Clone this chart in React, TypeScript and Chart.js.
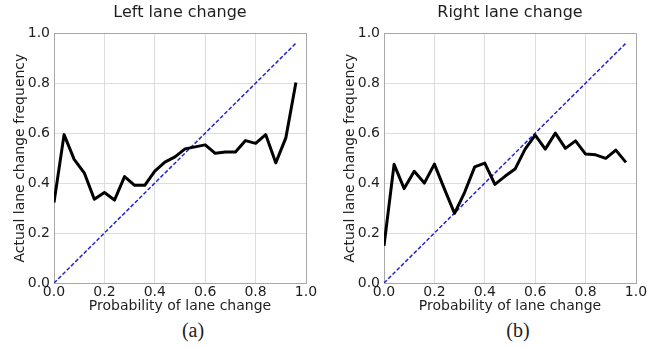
import { useEffect, useRef } from "react";
import { Chart, registerables } from "chart.js";

Chart.register(...registerables);

const probabilities = [
  0.0, 0.04, 0.08, 0.12, 0.16, 0.2, 0.24, 0.28, 0.32, 0.36, 0.4, 0.44, 0.48,
  0.52, 0.56, 0.6, 0.64, 0.68, 0.72, 0.76, 0.8, 0.84, 0.88, 0.92, 0.96,
];
const leftFrequency = [
  0.322, 0.594, 0.495, 0.441, 0.335, 0.362, 0.332, 0.426, 0.391, 0.391, 0.448,
  0.484, 0.505, 0.537, 0.545, 0.553, 0.519, 0.524, 0.524, 0.57, 0.559, 0.594,
  0.481, 0.581, 0.803,
];
const rightFrequency = [
  0.149, 0.475, 0.378, 0.447, 0.4, 0.476, 0.376, 0.279, 0.363, 0.465, 0.48,
  0.395, 0.427, 0.456, 0.536, 0.592, 0.536, 0.6, 0.539, 0.569, 0.516, 0.513,
  0.499, 0.532, 0.483,
];
const diagonalX = [0, 0.96];
const diagonalY = [0, 0.96];
const tickValues = [0, 0.2, 0.4, 0.6, 0.8, 1.0];
const tickLabels = ["0.0", "0.2", "0.4", "0.6", "0.8", "1.0"];

const FONT = "DejaVu Sans";
const TEXT = "#1e1e1e";

function CalibrationChart({ title, values }: { title: string; values: number[] }) {
  const ref = useRef<HTMLCanvasElement | null>(null);
  useEffect(() => {
    if (!ref.current) return;
    const gridColor = (ctx: any) =>
      ctx.tick && ctx.tick.value === 1 ? "#a8a8a8" : "#dddddd";
    const setTicks = (scale: any) => {
      scale.ticks = tickValues.map((v) => ({ value: v }));
    };
    const tickCb = (_v: any, i: number) => tickLabels[i];
    const chart = new Chart(ref.current, {
      type: "line",
      data: {
        datasets: [
          {
            data: probabilities.map((x, i) => ({ x, y: values[i] })),
            borderColor: "#000000",
            borderWidth: 3,
            pointRadius: 0,
            tension: 0,
            borderJoinStyle: "round",
            fill: false,
          },
          {
            data: diagonalX.map((x, i) => ({ x, y: diagonalY[i] })),
            borderColor: "rgb(35,35,210)",
            borderWidth: 1.5,
            borderDash: [4, 2],
            pointRadius: 0,
            fill: false,
          },
        ],
      },
      options: {
        animation: false,
        responsive: false,
        layout: { padding: { left: 0, right: 19, top: 0, bottom: 0 } },
        plugins: {
          legend: { display: false },
          tooltip: { enabled: false },
          title: {
            display: true,
            text: title,
            fullSize: false,
            color: TEXT,
            font: { family: FONT, size: 16, weight: "normal" },
            padding: { top: 3, bottom: 11 },
          },
        },
        scales: {
          x: {
            type: "linear",
            min: 0,
            max: 1,
            afterBuildTicks: setTicks,
            afterFit: (s: any) => {
              s.height = 35;
            },
            grid: { drawTicks: false, color: gridColor },
            border: { color: "#a8a8a8" },
            ticks: {
              padding: 1,
              color: TEXT,
              font: { family: FONT, size: 14 },
              callback: tickCb,
              maxRotation: 0,
            },
            title: {
              display: true,
              text: "Probability of lane change",
              color: TEXT,
              font: { family: FONT, size: 14 },
              padding: { top: 0, bottom: 3 },
            },
          },
          y: {
            type: "linear",
            min: 0,
            max: 1,
            afterBuildTicks: setTicks,
            afterFit: (s: any) => {
              s.width = 54;
            },
            grid: { drawTicks: false, color: gridColor },
            border: { color: "#a8a8a8" },
            ticks: {
              padding: 4,
              color: TEXT,
              font: { family: FONT, size: 14 },
              callback: tickCb,
            },
            title: {
              display: true,
              text: "Actual lane change frequency",
              color: TEXT,
              font: { family: FONT, size: 14 },
              padding: { top: 12, bottom: 0 },
            },
          },
        },
      },
    } as any);
    return () => chart.destroy();
  }, [title, values]);
  return <canvas ref={ref} width={325} height={318} style={{ width: 325, height: 318, display: "block" }} />;
}

export default function App() {
  const caption: React.CSSProperties = {
    position: "absolute",
    top: 318,
    fontFamily: "Liberation Serif",
    fontSize: 20,
    color: TEXT,
    width: 60,
    textAlign: "center",
    lineHeight: "24px",
  };
  return (
    <div style={{ position: "absolute", left: 0, top: 0, width: 655, height: 348, background: "#fff" }}>
      <div style={{ position: "absolute", left: 0, top: 0 }}>
        <CalibrationChart title="Left lane change" values={leftFrequency} />
      </div>
      <div style={{ position: "absolute", left: 330, top: 0 }}>
        <CalibrationChart title="Right lane change" values={rightFrequency} />
      </div>
      <div style={{ ...caption, left: 193 - 30 }}>(a)</div>
      <div style={{ ...caption, left: 518 - 30 }}>(b)</div>
    </div>
  );
}
